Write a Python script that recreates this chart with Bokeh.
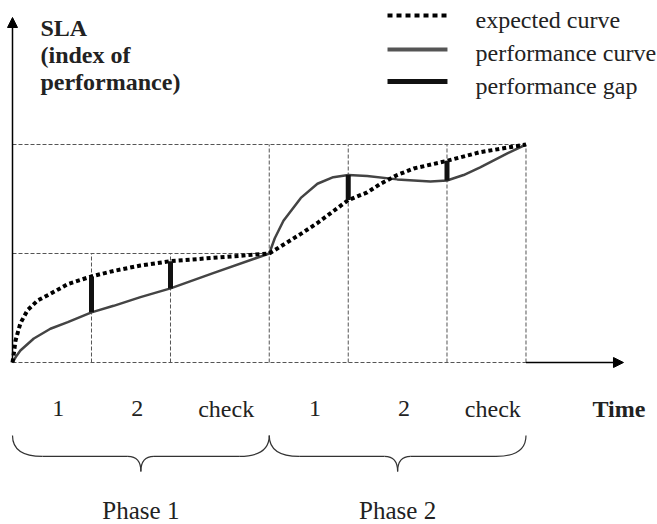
from bokeh.plotting import figure
from bokeh.models import Arrow, NormalHead
from bokeh.core.properties import value
from bokeh.embed import file_html
from bokeh.resources import INLINE

# ---------------- data ----------------
segment_bounds = [0, 1, 2, 3.25, 4.25, 5.5, 6.5]
segment_labels = ["1", "2", "check", "1", "2", "check"]
phase_labels = ["Phase 1", "Phase 2"]
phase_bounds = [(0, 3.25), (3.25, 6.5)]
phase_levels = [1, 2]

expected_time = [0, 0.013, 0.038, 0.10, 0.19, 0.32, 0.48, 0.70, 1.0, 1.28, 1.62, 2.0, 2.54, 3.25,
                 3.65, 3.86, 4.25, 4.49, 4.66, 4.87, 5.08, 5.5, 5.92, 6.5]
expected_sla = [0, 0.064, 0.20, 0.36, 0.48, 0.57, 0.63, 0.72, 0.79, 0.84, 0.89, 0.93, 0.96, 1.0,
                1.18, 1.28, 1.49, 1.56, 1.64, 1.72, 1.78, 1.85, 1.93, 2.0]

performance_time = [0, 0.05, 0.10, 0.27, 0.48, 0.70, 1.0, 1.28, 1.62, 2.0, 2.54, 3.25,
                    3.32, 3.43, 3.65, 3.86, 4.06, 4.25, 4.49, 4.87, 5.29, 5.5, 5.71, 5.92, 6.27, 6.5]
performance_sla = [0, 0.06, 0.11, 0.22, 0.31, 0.37, 0.46, 0.52, 0.60, 0.68, 0.82, 1.0,
                   1.14, 1.30, 1.51, 1.64, 1.70, 1.72, 1.71, 1.68, 1.66, 1.67, 1.72, 1.79, 1.92, 2.0]

gap_time = [1, 2, 4.25, 5.5]
gap_expected = [0.79, 0.93, 1.49, 1.85]
gap_performance = [0.46, 0.68, 1.72, 1.67]

y_title = ["SLA", "(index of", "performance)"]
x_title = "Time"
legend_labels = ["expected curve", "performance curve", "performance gap"]

# ---------------- figure ----------------
FONT = value("Liberation Serif")
p = figure(width=657, height=524, x_range=(-0.1519, 8.1646), y_range=(-1.4862, 3.3211),
           output_backend="svg", toolbar_location=None, min_border=0,
           x_axis_location=None, y_axis_location=None)
p.grid.visible = False
p.outline_line_color = None
p.background_fill_color = "white"
p.border_fill_color = "white"

# dashed phase rectangles
hx0, hx1, hy = [], [], []
hx0.append(0); hx1.append(segment_bounds[-1]); hy.append(0)
for (a, b), lvl in zip(phase_bounds, phase_levels):
    hx0.append(0); hx1.append(b); hy.append(lvl)
p.segment(x0=hx0, y0=hy, x1=hx1, y1=hy, line_color="#555555", line_width=1, line_dash="4 2")
vx, vtop = [], []
for b in segment_bounds[1:]:
    lvl = phase_levels[0] if b < phase_bounds[0][1] else phase_levels[1]
    vx.append(b); vtop.append(lvl)
p.segment(x0=vx, y0=[0] * len(vx), x1=vx, y1=vtop, line_color="#555555", line_width=1, line_dash="4 2")

# axes
p.add_layout(Arrow(end=NormalHead(size=10, fill_color="black", line_color="black", line_width=1),
                   x_start=0, y_start=0, x_end=0, y_end=3.165, line_width=1.5, line_color="black"))
p.add_layout(Arrow(end=NormalHead(size=10, fill_color="black", line_color="black", line_width=1),
                   x_start=segment_bounds[-1], y_start=0, x_end=7.734, y_end=0,
                   line_width=1.5, line_color="black"))

# curves
p.line(performance_time, performance_sla, line_color="#444444", line_width=2.5, line_join="round")
p.line(expected_time, expected_sla, line_color="black", line_width=4, line_dash="4 3")
p.segment(x0=gap_time, y0=gap_performance, x1=gap_time, y1=gap_expected,
          line_color="#111111", line_width=5)

# axis titles
p.text(x=[0.354] * 3, y=[3.073, 2.817, 2.569], text=y_title, text_font=FONT,
       text_font_size=value("24px"), text_font_style="bold", text_color="#222222",
       text_baseline="alphabetic", text_align="left")
p.text(x=[7.342], y=[-0.422], text=[x_title], text_font=FONT, text_font_size=value("24px"),
       text_font_style="bold", text_color="#222222", text_baseline="alphabetic", text_align="left")

# segment labels
lab_x = [(segment_bounds[i] + segment_bounds[i + 1]) / 2 + 0.08 for i in range(len(segment_labels))]
p.text(x=lab_x, y=[-0.422] * len(lab_x), text=segment_labels, text_font=FONT,
       text_font_size=value("24px"), text_color="#222222", text_baseline="alphabetic", text_align="center")

# braces
top, mid, tip, r, r2 = -0.670, -0.862, -1.0, 0.38, 0.165
qx0, qy0, qx1, qy1, qcx, qcy = [], [], [], [], [], []
lx0, lx1 = [], []
for a, b in phase_bounds:
    c = (a + b) / 2
    for (sx, sy, ex, ey, cx, cy) in [
        (a, top, a + r, mid, a, mid),
        (c - r2, mid, c, tip, c, mid),
        (c + r2, mid, c, tip, c, mid),
        (b, top, b - r, mid, b, mid),
    ]:
        qx0.append(sx); qy0.append(sy); qx1.append(ex); qy1.append(ey); qcx.append(cx); qcy.append(cy)
    lx0 += [a + r, c + r2]; lx1 += [c - r2, b - r]
p.quadratic(x0=qx0, y0=qy0, x1=qx1, y1=qy1, cx=qcx, cy=qcy, line_color="#333333", line_width=1.2)
p.segment(x0=lx0, y0=[mid] * len(lx0), x1=lx1, y1=[mid] * len(lx1), line_color="#333333", line_width=1.2)
p.text(x=[(a + b) / 2 for a, b in phase_bounds], y=[-1.358] * 2, text=phase_labels, text_font=FONT,
       text_font_size=value("25px"), text_color="#222222", text_baseline="alphabetic", text_align="center")

# legend
lg_x0, lg_x1 = 4.747, 5.506
lg_y = [3.183, 2.872, 2.578]
p.segment(x0=[lg_x0], y0=[lg_y[0]], x1=[lg_x1], y1=[lg_y[0]], line_color="black", line_width=4, line_dash="5 4")
p.segment(x0=[lg_x0], y0=[lg_y[1]], x1=[lg_x1], y1=[lg_y[1]], line_color="#555555", line_width=4)
p.segment(x0=[lg_x0], y0=[lg_y[2]], x1=[lg_x1], y1=[lg_y[2]], line_color="#111111", line_width=5)
p.text(x=[5.861] * 3, y=[3.138, 2.835, 2.541], text=legend_labels, text_font=FONT,
       text_font_size=value("24px"), text_color="#222222", text_baseline="alphabetic", text_align="left")

open("out.html", "w").write(file_html(p, INLINE))
